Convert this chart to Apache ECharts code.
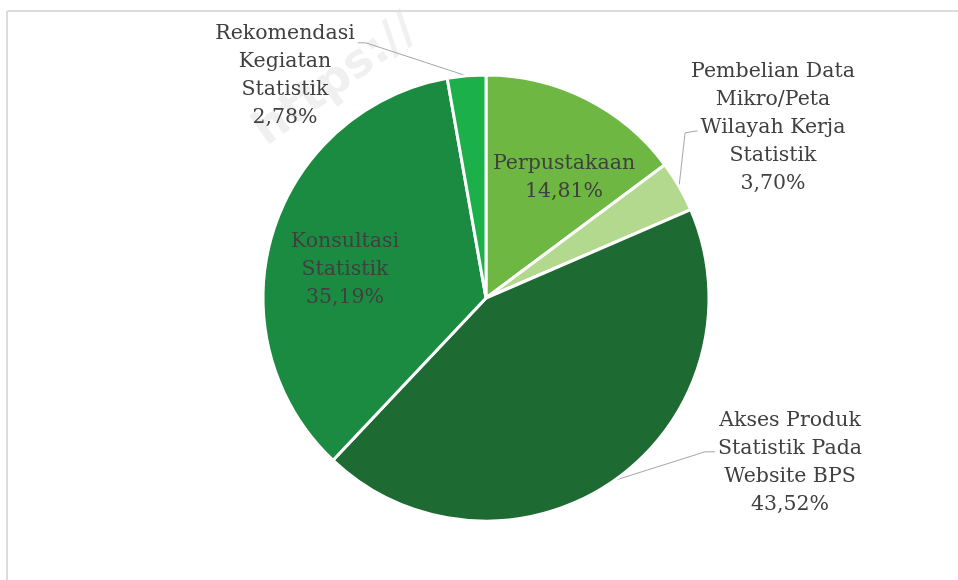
<!DOCTYPE html>
<html>
<head>
<meta charset="utf-8">
<script src="https://cdn.jsdelivr.net/npm/echarts@6/dist/echarts.min.js"></script>
<style>
  html, body { margin: 0; padding: 0; background: #fff; }
  #chart { width: 958px; height: 580px; }
</style>
</head>
<body>
<div id="chart"></div>
<script>
// Layanan yang dimanfaatkan (persen)
const categories = [
  'Perpustakaan',
  'Pembelian Data\nMikro/Peta\nWilayah Kerja\nStatistik',
  'Akses Produk\nStatistik Pada\nWebsite BPS',
  'Konsultasi\nStatistik',
  'Rekomendasi\nKegiatan\nStatistik'
];
const shares = [14.81, 3.70, 43.52, 35.19, 2.78];
const sliceColors = ['#6db742', '#b3d98f', '#1e6a33', '#1b8b41', '#1bb04a'];
const insideLabel = [true, false, false, true, false];
// label block centres (px)
const labelSpots = [[564, 178], [773, 128], [790, 463], [345, 270], [285, 76]];
// which text line the leader line attaches to, and on which side
const leaderLine = [null, { line: 2, side: 'left' }, { line: 1, side: 'left' }, null, { line: 0, side: 'right' }];

const FONT_FAMILY = '"DejaVu Serif", "Liberation Serif", serif';
const FONT_SIZE = 20.5;
const LINE_H = 28;
const CENTER = [486, 298];
const RADIUS = 223;

const measureCtx = document.createElement('canvas').getContext('2d');
measureCtx.font = FONT_SIZE + 'px ' + FONT_FAMILY;

function labelText(i) {
  return categories[i] + '\n' + shares[i].toFixed(2).replace('.', ',') + '%';
}

// mid angle of each slice, measured clockwise from 12 o'clock
const total = shares.reduce((a, b) => a + b, 0);
const midAngles = [];
shares.reduce((acc, v) => { midAngles.push((acc + v / 2) / total * 2 * Math.PI); return acc + v; }, 0);

const chart = echarts.init(document.getElementById('chart'), null, { renderer: 'canvas' });

const data = categories.map((name, i) => ({
  name: name,
  value: shares[i],
  itemStyle: { color: sliceColors[i] },
  label: { position: insideLabel[i] ? 'inside' : 'outside' },
  labelLine: { show: !insideLabel[i] }
}));

chart.setOption({
  backgroundColor: '#ffffff',
  animation: false,
  graphic: [
    { type: 'line', shape: { x1: 7, y1: 11, x2: 958, y2: 11 }, style: { stroke: '#dcdcdc', lineWidth: 2 } },
    { type: 'line', shape: { x1: 7, y1: 11, x2: 7, y2: 580 }, style: { stroke: '#dcdcdc', lineWidth: 2 } },
    {
      type: 'text', x: 246, y: 118, rotation: Math.PI * 0.2,
      style: { text: 'https://', font: 'bold 46px "DejaVu Sans", sans-serif', fill: 'rgba(120,120,120,0.11)' },
      z: -1
    }
  ],
  series: [{
    type: 'pie',
    center: CENTER,
    radius: [0, RADIUS],
    startAngle: 90,
    clockwise: true,
    avoidLabelOverlap: false,
    itemStyle: { borderColor: '#ffffff', borderWidth: 3 },
    label: {
      show: true,
      color: '#404040',
      fontFamily: FONT_FAMILY,
      fontSize: FONT_SIZE,
      lineHeight: LINE_H,
      align: 'center',
      formatter: p => labelText(p.dataIndex)
    },
    labelLine: {
      show: true,
      lineStyle: { color: '#a6a6a6', width: 1 }
    },
    labelLayout: params => {
      const i = params.dataIndex;
      const spot = labelSpots[i];
      const lines = labelText(i).split('\n');
      const top = spot[1] - lines.length * LINE_H / 2;
      const out = { x: spot[0], y: spot[1], align: 'center', verticalAlign: 'middle' };
      const ll = leaderLine[i];
      if (ll) {
        const a = midAngles[i];
        const anchor = [CENTER[0] + RADIUS * Math.sin(a), CENTER[1] - RADIUS * Math.cos(a)];
        const w = measureCtx.measureText(lines[ll.line]).width;
        const ly = top + LINE_H * (ll.line + 0.6);
        if (ll.side === 'left') {
          const ex = spot[0] - w / 2 - 3;
          out.labelLinePoints = i === 1
            ? [anchor, [anchor[0] + 6, ly + 2], [ex, ly]]
            : [anchor, [ex - 10, ly], [ex, ly]];
        } else {
          const ex = spot[0] + w / 2 + 3;
          out.labelLinePoints = [anchor, [ex + 8, ly + 6], [ex, ly + 6]];
        }
      }
      return out;
    },
    data: data
  }]
});
</script>
</body>
</html>
